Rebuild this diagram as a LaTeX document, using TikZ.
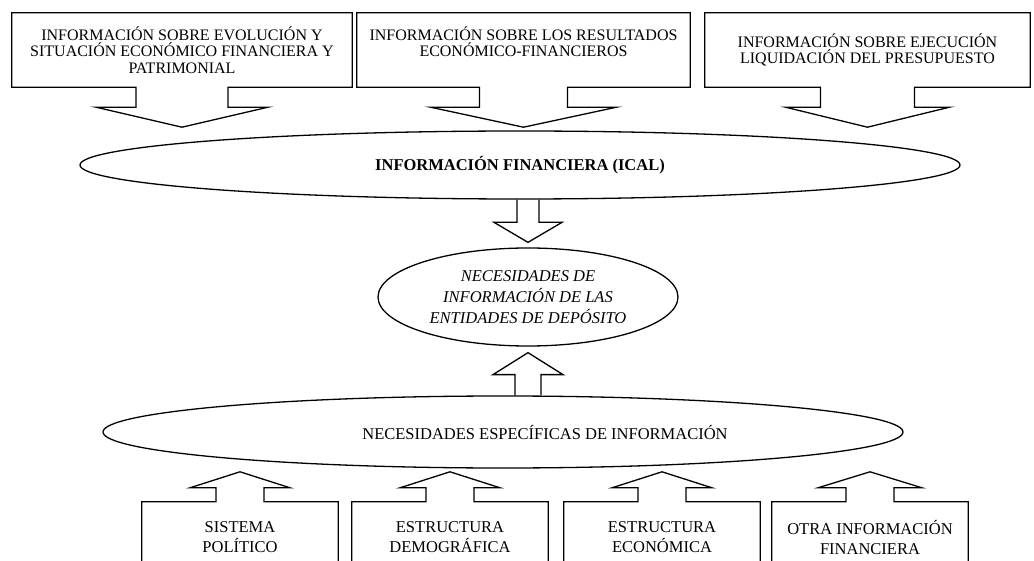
\documentclass[tikz,border=0pt]{standalone}
\usepackage{fontspec}
\setmainfont{Liberation Serif}
\usetikzlibrary{calc,shapes.geometric}

\begin{document}
\begin{tikzpicture}[x=1pt,y=-1pt,
	line/.style={line width=1.3pt, line join=miter},
	topbox/.style={minimum width=#1, minimum height=74pt, inner sep=0pt, align=center, font=\fontsize{16}{16.5}\selectfont},
	botbox/.style={minimum width=196pt, minimum height=70pt, inner sep=0pt, align=center, font=\fontsize{16.5}{20}\selectfont},
	oval/.style={ellipse, draw, line width=1.3pt, inner sep=0pt, align=center}]

	\useasboundingbox (0,0) rectangle (1034,561);
	\coordinate (pagebot) at (0,561);

	\node[topbox=340pt] (evol) at (182,50) {INFORMACIÓN SOBRE EVOLUCIÓN Y\\SITUACIÓN ECONÓMICO FINANCIERA Y\\PATRIMONIAL};
	\node[topbox=333pt] (result) at (523.5,50) {INFORMACIÓN SOBRE LOS RESULTADOS\\ECONÓMICO-FINANCIEROS\\\mbox{}};
	\node[topbox=325pt] (presup) at (867.5,50) {INFORMACIÓN SOBRE EJECUCIÓN\\LIQUIDACIÓN DEL PRESUPUESTO};

	\node[oval, minimum width=880pt, minimum height=68pt, font=\bfseries\fontsize{16.5}{18}\selectfont] (ical) at (520,165) {INFORMACIÓN FINANCIERA (ICAL)};
	\node[oval, minimum width=300pt, minimum height=98pt, font=\itshape\fontsize{16.5}{21}\selectfont] (needs) at (528,297) {NECESIDADES DE\\INFORMACIÓN DE LAS\\ENTIDADES DE DEPÓSITO};
	\node[oval, minimum width=800pt, minimum height=72pt] (espec) at (503,432) {};
	\node[font=\fontsize{16.5}{18}\selectfont] (especlbl) at (545,432) {NECESIDADES ESPECÍFICAS DE INFORMACIÓN};

	\node[botbox] (polit) at (240,537) {SISTEMA\\POLÍTICO};
	\node[botbox] (demog) at (450,537) {ESTRUCTURA\\DEMOGRÁFICA};
	\node[botbox] (econ) at (662,537) {ESTRUCTURA\\ECONÓMICA};
	\node[botbox] (otra) at (870,537) {OTRA INFORMACIÓN\\FINANCIERA};

\draw[line] ([xshift=-46pt]evol.south) -- (evol.south west) -- (evol.north west) -- (evol.north east) -- (evol.south east) -- ([xshift=46pt]evol.south) -- ([xshift=46pt,yshift=-20pt]evol.south) -- ([xshift=86pt,yshift=-20pt]evol.south) -- ([yshift=-40pt]evol.south) -- ([xshift=-86pt,yshift=-20pt]evol.south) -- ([xshift=-46pt,yshift=-20pt]evol.south) -- cycle;
\draw[line] ([xshift=-44pt]result.south) -- (result.south west) -- (result.north west) -- (result.north east) -- (result.south east) -- ([xshift=44pt]result.south) -- ([xshift=44pt,yshift=-20pt]result.south) -- ([xshift=93pt,yshift=-20pt]result.south) -- ([yshift=-40pt]result.south) -- ([xshift=-93pt,yshift=-20pt]result.south) -- ([xshift=-44pt,yshift=-20pt]result.south) -- cycle;
\draw[line] ([xshift=-47pt]presup.south) -- (presup.south west) -- (presup.north west) -- (presup.north east) -- (presup.south east) -- ([xshift=47pt]presup.south) -- ([xshift=47pt,yshift=-20pt]presup.south) -- ([xshift=82pt,yshift=-20pt]presup.south) -- ([yshift=-40pt]presup.south) -- ([xshift=-82pt,yshift=-20pt]presup.south) -- ([xshift=-47pt,yshift=-20pt]presup.south) -- cycle;

\draw[line] let \p1=(ical.south), \p2=([yshift=5pt]needs.north) in (\x2-11pt,\y1) -- (\x2-11pt,\y2+20pt) -- (\x2-34pt,\y2+20pt) -- (\x2,\y2) -- (\x2+34pt,\y2+20pt) -- (\x2+11pt,\y2+20pt) -- (\x2+11pt,\y1);
\draw[line] let \p1=(espec.north), \p2=([yshift=-6pt]needs.south) in (\x2-13pt,\y1) -- (\x2-13pt,\y2-22pt) -- (\x2-35pt,\y2-22pt) -- (\x2,\y2) -- (\x2+35pt,\y2-22pt) -- (\x2+13pt,\y2-22pt) -- (\x2+13pt,\y1);

\draw[line] (polit.north west |- pagebot) -- (polit.north west) -- ([xshift=-24pt]polit.north) -- ([xshift=-24pt,yshift=14pt]polit.north) -- ([xshift=-50pt,yshift=14pt]polit.north) -- ([yshift=30pt]polit.north) -- ([xshift=50pt,yshift=14pt]polit.north) -- ([xshift=24pt,yshift=14pt]polit.north) -- ([xshift=24pt]polit.north) -- (polit.north east) -- (polit.north east |- pagebot);
\draw[line] (demog.north west |- pagebot) -- (demog.north west) -- ([xshift=-24pt]demog.north) -- ([xshift=-24pt,yshift=14pt]demog.north) -- ([xshift=-50pt,yshift=14pt]demog.north) -- ([yshift=30pt]demog.north) -- ([xshift=50pt,yshift=14pt]demog.north) -- ([xshift=24pt,yshift=14pt]demog.north) -- ([xshift=24pt]demog.north) -- (demog.north east) -- (demog.north east |- pagebot);
\draw[line] (econ.north west |- pagebot) -- (econ.north west) -- ([xshift=-24pt]econ.north) -- ([xshift=-24pt,yshift=14pt]econ.north) -- ([xshift=-50pt,yshift=14pt]econ.north) -- ([yshift=30pt]econ.north) -- ([xshift=50pt,yshift=14pt]econ.north) -- ([xshift=24pt,yshift=14pt]econ.north) -- ([xshift=24pt]econ.north) -- (econ.north east) -- (econ.north east |- pagebot);
\draw[line] (otra.north west |- pagebot) -- (otra.north west) -- ([xshift=-24pt]otra.north) -- ([xshift=-24pt,yshift=14pt]otra.north) -- ([xshift=-52pt,yshift=14pt]otra.north) -- ([yshift=30pt]otra.north) -- ([xshift=52pt,yshift=14pt]otra.north) -- ([xshift=24pt,yshift=14pt]otra.north) -- ([xshift=24pt]otra.north) -- (otra.north east) -- (otra.north east |- pagebot);

\end{tikzpicture}
\end{document}
